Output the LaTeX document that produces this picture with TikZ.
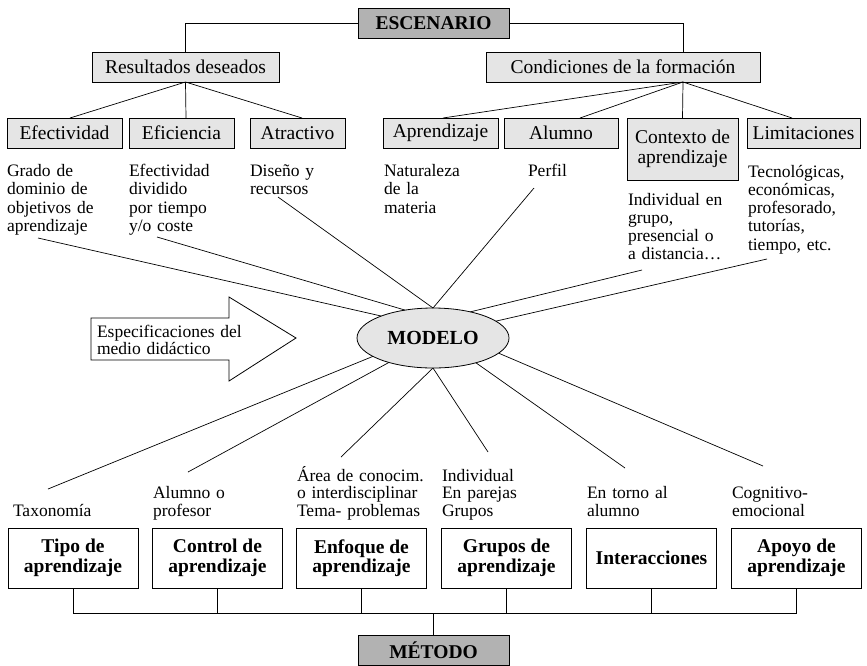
\documentclass[tikz,border=0pt]{standalone}
\usepackage{fontspec}
\setmainfont{Liberation Serif}
\usetikzlibrary{shapes.geometric}
\begin{document}
\begin{tikzpicture}[x=1pt,y=-1pt,line width=0.8pt,
  every node/.style={inner sep=0pt,outer sep=0pt},
  boxdark/.style={draw,fill=black!30,minimum width=151pt,minimum height=30pt,font=\fontsize{19.5}{21}\selectfont\bfseries},
  boxlight/.style={draw,fill=black!10,minimum height=30pt,align=center,font=\fontsize{19.5}{20}\selectfont},
  boxbold/.style={draw,fill=white,minimum width=130pt,minimum height=60pt,align=center,font=\fontsize{19.5}{19.5}\selectfont\bfseries},
  desc/.style={anchor=base west,text width=150pt,align=left,font=\fontsize{17.5}{18.3}\selectfont},
  descb/.style={anchor=base west,text width=150pt,align=left,font=\fontsize{17.5}{17.5}\selectfont},
  link/.style={line width=0.7pt}]
\useasboundingbox (0,0) rectangle (867,665);
\fill[white] (0,0) rectangle (867,665);

% top level
\node[boxdark] (esc) at (433.5,23) {ESCENARIO};
\node[boxlight,minimum width=187pt] (res) at (185.5,67) {Resultados deseados};
\node[boxlight,minimum width=274pt] (cond) at (623,67) {Condiciones de la formación};

% second level
\node[boxlight,minimum width=115pt] (eff) at (64.5,133) {Efectividad};
\node[boxlight,minimum width=105pt] (efi) at (181.5,133) {Eficiencia};
\node[boxlight,minimum width=95pt] (atr) at (297.5,133) {Atractivo};
\node[boxlight,minimum width=115pt] (apr) at (440.5,133) {Aprendizaje};
\node[boxlight,minimum width=114pt] (alu) at (561,133) {Alumno};
\node[boxlight,minimum width=111pt,minimum height=62pt] (ctx) at (682.5,149) {Contexto de\\aprendizaje};
\node[boxlight,minimum width=113pt] (lim) at (803.5,133) {Limitaciones};

% connectors top
\draw[link] (esc.west) -| (res.north);
\draw[link] (esc.east) -| ([xshift=60pt]cond.north);
\draw[link] (res.south) -- ([xshift=5.5pt]eff.north);
\draw[link] (res.south) -- ([xshift=4.5pt]efi.north);
\draw[link] (res.south) -- ([xshift=4.5pt]atr.north);
\coordinate (condb) at ([xshift=60pt]cond.south);
\draw[link] (condb) -- ([xshift=2.5pt]apr.north);
\draw[link] (condb) -- ([xshift=19pt]alu.north);
\draw[link] (condb) -- (ctx.north);
\draw[link] (condb) -- ([xshift=-11.5pt]lim.north);

% descriptions top
\node[desc] (d1) at (7,176.5) {Grado de\\dominio de\\objetivos de\\aprendizaje};
\node[desc] (d2) at (129,176.5) {Efectividad\\dividido\\por tiempo\\y/o coste};
\node[desc] (d3) at (250,176.5) {Diseño y\\recursos};
\node[desc] (d4) at (384,176.5) {Naturaleza\\de la\\materia};
\node[desc] (d5) at (528,176.5) {Perfil};
\node[desc] (d6) at (628,205) {Individual en\\grupo,\\presencial o\\a distancia…};
\node[desc] (d7) at (748,177) {Tecnológicas,\\económicas,\\profesorado,\\tutorías,\\tiempo, etc.};

% model
\node[ellipse,draw,fill=black!10,minimum width=152pt,minimum height=60pt,font=\fontsize{20}{20}\selectfont\bfseries] (mod) at (433,338) {MODELO};

% arrow
\draw[line width=0.8pt,fill=white] (91,318) -- (229,318) -- (229,297) -- (296,338) -- (229,381) -- (229,360) -- (91,360) -- cycle;
\node[anchor=base west,text width=150pt,align=left,font=\fontsize{17.5}{17}\selectfont] (spec) at (97,337) {Especificaciones del\\medio didáctico};

% free ends
\coordinate (fA) at (38,238);
\coordinate (fB) at (157,237);
\coordinate (fC) at (278,197);
\coordinate (fP) at (534,188);
\coordinate (fJ) at (642,270);
\coordinate (fK) at (767,259);
\coordinate (fD) at (48,489);
\coordinate (fE) at (188,472);
\coordinate (fF) at (341,457);
\coordinate (fG) at (488,452);
\coordinate (fH) at (625,468);
\coordinate (fI) at (763,466);

\draw[link] (fA) -- (mod.157.5);
\draw[link] (fB) -- (mod.135);
\draw[link] (fC) -- (mod.90);
\draw[link] (fP) -- (mod.90);
\draw[link] (fJ) -- (mod.35);
\draw[link] (fK) -- (mod.15.5);
\draw[link] (fD) -- (mod.197);
\draw[link] (fE) -- (mod.209);
\draw[link] (fF) -- (mod.270);
\draw[link] (fG) -- (mod.270);
\draw[link] (fH) -- (mod.330);
\draw[link] (fI) -- (mod.347);

% bottom descriptions
\node[descb] (t1) at (13,516) {Taxonomía};
\node[descb] (t2) at (153,498.5) {Alumno o\\profesor};
\node[descb] (t3) at (297,481) {Área de conocim.\\o interdisciplinar\\Tema- problemas};
\node[descb] (t4) at (442,481) {Individual\\En parejas\\Grupos};
\node[descb] (t5) at (587,498.5) {En torno al\\alumno};
\node[descb] (t6) at (732,498.5) {Cognitivo-\\emocional};

% bottom boxes
\node[boxbold] (b1) at (73,558) {Tipo de\\aprendizaje};
\node[boxbold] (b2) at (217.5,558) {Control de\\aprendizaje};
\node[boxbold] (b3) at (361.5,558) {Enfoque de\\aprendizaje};
\node[boxbold] (b4) at (506.5,558) {Grupos de\\aprendizaje};
\node[boxbold] (b5) at (651.5,558) {Interacciones};
\node[boxbold] (b6) at (796.5,558) {Apoyo de\\aprendizaje};

\node[boxdark] (met) at (433.5,650) {MÉTODO};

\draw[link] (b1.south) -- ++(0,25) -| (b6.south);
\draw[link] (b2.south) -- ++(0,25);
\draw[link] (b3.south) -- ++(0,25);
\draw[link] (b4.south) -- ++(0,25);
\draw[link] (b5.south) -- ++(0,25);
\draw[link] (met.north) -- ++(0,-22);
\end{tikzpicture}
\end{document}
